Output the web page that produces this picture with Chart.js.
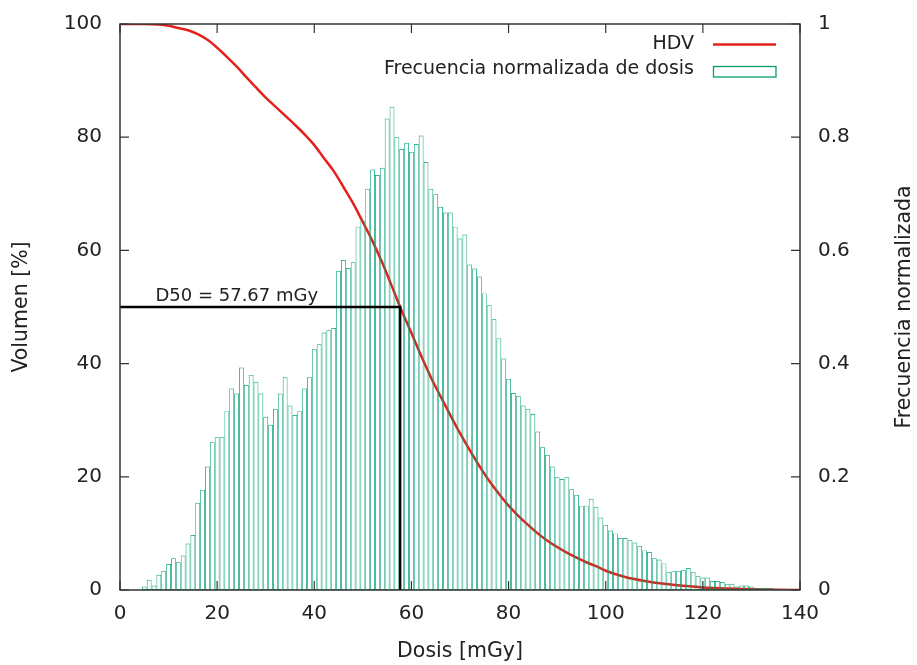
<!DOCTYPE html>
<html>
<head>
<meta charset="utf-8">
<script src="https://cdn.jsdelivr.net/npm/chart.js@4.4.1/dist/chart.umd.min.js"></script>
<style>
html,body{margin:0;padding:0;background:#ffffff;}
#wrap{width:917px;height:665px;position:relative;}
</style>
</head>
<body>
<div id="wrap"><canvas id="c" width="917" height="665"></canvas></div>
<script>
// ---------- DATA ----------
const doseBins = [5,6,7,8,9,10,11,12,13,14,15,16,17,18,19,20,21,22,23,24,25,26,27,28,29,30,31,32,33,34,35,36,37,38,39,40,41,42,43,44,45,46,47,48,49,50,51,52,53,54,55,56,57,58,59,60,61,62,63,64,65,66,67,68,69,70,71,72,73,74,75,76,77,78,79,80,81,82,83,84,85,86,87,88,89,90,91,92,93,94,95,96,97,98,99,100,101,102,103,104,105,106,107,108,109,110,111,112,113,114,115,116,117,118,119,120,121,122,123,124,125,126,127,128,129,130,131,132,133,134,135,136,137,138,139];
const normFreq = [0.006,0.018,0.008,0.027,0.034,0.046,0.056,0.049,0.061,0.082,0.097,0.154,0.177,0.218,0.261,0.270,0.270,0.316,0.356,0.347,0.393,0.362,0.380,0.368,0.347,0.306,0.292,0.320,0.347,0.376,0.326,0.309,0.316,0.356,0.376,0.426,0.434,0.455,0.459,0.463,0.564,0.583,0.569,0.579,0.642,0.653,0.709,0.743,0.733,0.746,0.833,0.853,0.800,0.779,0.790,0.774,0.788,0.803,0.756,0.709,0.699,0.677,0.667,0.667,0.642,0.621,0.628,0.575,0.568,0.554,0.524,0.503,0.479,0.445,0.409,0.373,0.348,0.343,0.326,0.320,0.311,0.280,0.252,0.239,0.218,0.199,0.196,0.199,0.178,0.168,0.149,0.149,0.161,0.147,0.128,0.115,0.105,0.100,0.092,0.092,0.088,0.084,0.078,0.070,0.067,0.056,0.054,0.047,0.032,0.033,0.034,0.035,0.039,0.032,0.025,0.022,0.022,0.016,0.016,0.014,0.011,0.011,0.006,0.008,0.008,0.006,0.003,0.003,0.003,0.003,0.0015,0.0015,0.0015,0.001,0.0005];

const hdvDose   = [0,5,8,10,12,14,16,18,20,22,24,26,28,30,32,34,36,38,40,42,44,46,48,50,52,54,56,57.67,60,62,64,66,68,70,72,74,76,78,80,82,84,86,88,90,92,94,96,98,100,104,108,112,116,120,125,130,135,140];
const hdvVolume = [100,100,99.9,99.7,99.3,98.9,98.2,97.2,95.8,94.2,92.5,90.6,88.8,87.0,85.4,83.8,82.2,80.5,78.6,76.3,74.0,71.2,68.3,65.0,61.6,57.8,53.6,50.0,45.4,41.4,37.6,34.2,30.9,27.7,24.7,21.9,19.3,17.0,14.9,13.1,11.5,10.0,8.7,7.6,6.6,5.7,4.9,4.2,3.4,2.3,1.6,1.1,0.75,0.45,0.28,0.14,0.06,0.0];

const d50Dose = 57.67;
const d50Volume = 50;
const d50Text = 'D50 = 57.67 mGy';

const xTickValues = [0,20,40,60,80,100,120,140];
const yTickValues = [0,20,40,60,80,100];
const y2TickValues = [0,0.2,0.4,0.6,0.8,1];

const seriesNames = ['HDV', 'Frecuencia normalizada de dosis'];
const axisTitles = { x: 'Dosis [mGy]', y: 'Volumen [%]', y2: 'Frecuencia normalizada' };

// ---------- STYLE ----------
const RED = '#e3221c';
const GREEN = '#009e73';
const TXT = '#222222';
const FONT = 'DejaVu Sans';

const histData = doseBins.map((d, i) => ({ x: d, y: normFreq[i] }));
const hdvData = hdvDose.map((d, i) => ({ x: d, y: hdvVolume[i] }));
const d50Data = [{ x: 0, y: d50Volume }, { x: d50Dose, y: d50Volume }, { x: d50Dose, y: 0 }];

const framePlugin = {
  id: 'framePlugin',
  afterDraw(chart) {
    const ctx = chart.ctx;
    const a = chart.chartArea;
    const sx = chart.scales.x, sy = chart.scales.y, sy2 = chart.scales.y2;
    ctx.save();
    ctx.strokeStyle = '#333';
    ctx.lineWidth = 1.5;
    ctx.strokeRect(a.left, a.top, a.right - a.left, a.bottom - a.top);
    const tl = 9;
    ctx.lineWidth = 1.2;
    ctx.beginPath();
    xTickValues.forEach(v => {
      const px = sx.getPixelForValue(v);
      ctx.moveTo(px, a.bottom); ctx.lineTo(px, a.bottom - tl);
      ctx.moveTo(px, a.top); ctx.lineTo(px, a.top + tl);
    });
    yTickValues.forEach(v => {
      const py = sy.getPixelForValue(v);
      ctx.moveTo(a.left, py); ctx.lineTo(a.left + tl, py);
    });
    y2TickValues.forEach(v => {
      const py = sy2.getPixelForValue(v);
      ctx.moveTo(a.right, py); ctx.lineTo(a.right - tl, py);
    });
    ctx.stroke();

    // axis titles
    ctx.fillStyle = TXT;
    ctx.font = '20.5px "' + FONT + '"';
    ctx.textAlign = 'center';
    ctx.textBaseline = 'middle';
    const midY = (a.top + a.bottom) / 2;
    ctx.save(); ctx.translate(22, midY); ctx.rotate(-Math.PI / 2); ctx.fillText(axisTitles.y, 0, 0); ctx.restore();
    ctx.save(); ctx.translate(905, midY); ctx.rotate(-Math.PI / 2); ctx.fillText(axisTitles.y2, 0, 0); ctx.restore();
    ctx.fillText(axisTitles.x, (a.left + a.right) / 2, 652);

    // D50 label
    ctx.font = '18px "' + FONT + '"';
    ctx.textAlign = 'left';
    ctx.textBaseline = 'alphabetic';
    ctx.fillText(d50Text, sx.getPixelForValue(7.3), sy.getPixelForValue(d50Volume) - 6);

    // legend
    ctx.font = '19px "' + FONT + '"';
    ctx.textAlign = 'right';
    ctx.textBaseline = 'middle';
    ctx.fillText(seriesNames[0], 694, 44);
    ctx.fillText(seriesNames[1], 694, 69);
    ctx.strokeStyle = RED; ctx.lineWidth = 2.5;
    ctx.beginPath(); ctx.moveTo(713, 44.5); ctx.lineTo(776, 44.5); ctx.stroke();
    ctx.strokeStyle = GREEN; ctx.lineWidth = 1.3;
    ctx.strokeRect(713.5, 66.5, 62.5, 10.5);
    ctx.restore();
  }
};

const fmt = v => String(parseFloat(Number(v).toFixed(2)));
const zeroPad = s => { s.paddingTop = 0; s.paddingBottom = 0; s.paddingLeft = 0; s.paddingRight = 0; };

new Chart(document.getElementById('c'), {
  type: 'bar',
  data: {
    datasets: [
      {
        type: 'line', label: 'D50', data: d50Data, yAxisID: 'y',
        borderColor: '#000', borderWidth: 2.5, pointRadius: 0, tension: 0, order: 0
      },
      {
        type: 'bar', label: seriesNames[1], data: histData, yAxisID: 'y2',
        backgroundColor: 'rgba(0,0,0,0)', borderColor: GREEN, borderWidth: 0.7, inflateAmount: 0,
        borderSkipped: false, barPercentage: 1, categoryPercentage: 1, order: 1
      },
      {
        type: 'line', label: seriesNames[0], data: hdvData, yAxisID: 'y',
        borderColor: RED, borderWidth: 2.5, pointRadius: 0, cubicInterpolationMode: 'monotone', order: 2
      }
    ]
  },
  options: {
    responsive: false,
    animation: false,
    layout: { padding: { top: 24, left: 0, right: 0, bottom: 0 } },
    plugins: { legend: { display: false }, tooltip: { enabled: false } },
    scales: {
      x: {
        type: 'linear', min: 0, max: 140, offset: false,
        grid: { display: false, drawTicks: false }, border: { display: false },
        ticks: { stepSize: 20, color: TXT, font: { family: FONT, size: 20 }, padding: 12, maxRotation: 0, callback: fmt },
        afterFit: s => { s.height = 75; zeroPad(s); }
      },
      y: {
        type: 'linear', position: 'left', min: 0, max: 100,
        grid: { display: false, drawTicks: false }, border: { display: false },
        ticks: { stepSize: 20, color: TXT, font: { family: FONT, size: 20 }, padding: 18, callback: fmt },
        afterFit: s => { s.width = 120; zeroPad(s); }
      },
      y2: {
        type: 'linear', position: 'right', min: 0, max: 1,
        grid: { display: false, drawTicks: false }, border: { display: false },
        ticks: { stepSize: 0.2, color: TXT, font: { family: FONT, size: 20 }, padding: 18, callback: fmt },
        afterFit: s => { s.width = 117; zeroPad(s); }
      }
    }
  },
  plugins: [framePlugin]
});
</script>
</body>
</html>
